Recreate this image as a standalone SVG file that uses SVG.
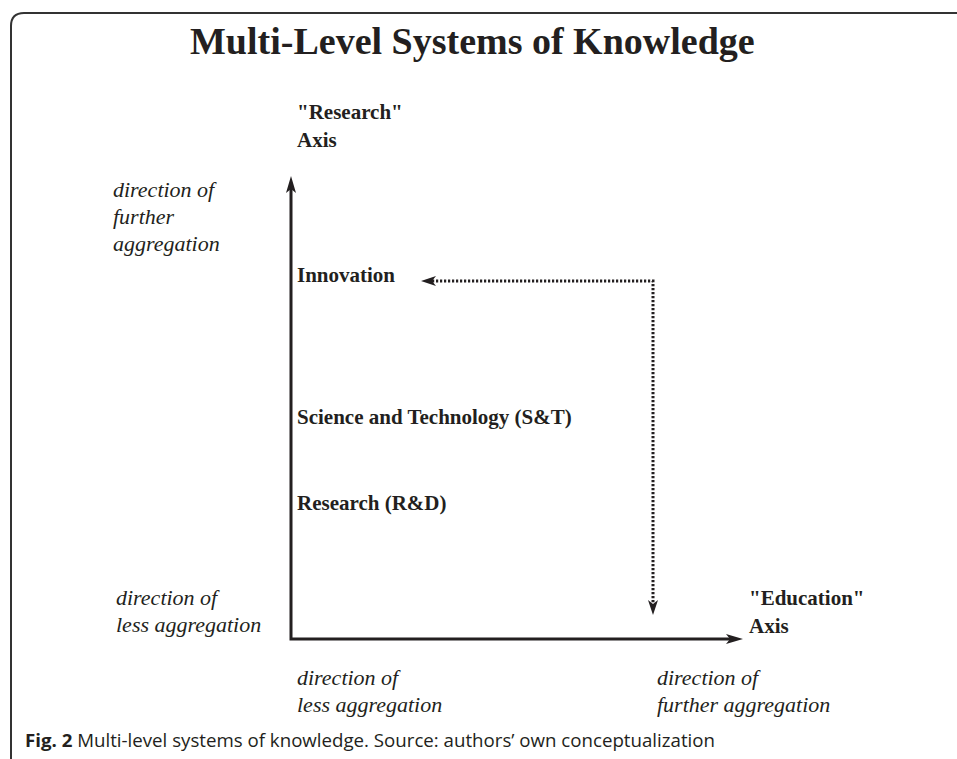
<svg xmlns="http://www.w3.org/2000/svg" width="957" height="759" viewBox="0 0 957 759">
  <style>
    .bold { font-family: "Liberation Serif", "Times New Roman", serif; font-weight: bold; font-size: 21px; fill: #231f20; }
    .ital { font-family: "Liberation Serif", "Times New Roman", serif; font-style: italic; font-size: 22px; fill: #231f20; }
    .title { font-family: "Liberation Serif", "Times New Roman", serif; font-weight: bold; font-size: 38px; fill: #231f20; }
    .cap { font-family: "Open Sans", "Noto Sans", sans-serif; font-size: 18px; fill: #231f20; }
    .axis { fill: none; stroke: #231f20; stroke-width: 3; }
    .dots { fill: none; stroke: #231f20; stroke-width: 3; stroke-dasharray: 2.2 1.8; }
  </style>
  <defs>
    <marker id="axisHead" viewBox="0 0 17 10" refX="4" refY="5" markerWidth="17" markerHeight="10" markerUnits="userSpaceOnUse" orient="auto-start-reverse">
      <path d="M0,0 L17,5 L0,10 L4,5 Z" fill="#231f20"/>
    </marker>
    <marker id="dotHead" viewBox="0 0 15 10" refX="4" refY="5" markerWidth="15" markerHeight="10" markerUnits="userSpaceOnUse" orient="auto-start-reverse">
      <path d="M0,0 L15,5 L0,10 L4,5 Z" fill="#231f20"/>
    </marker>
  </defs>
  <rect width="957" height="759" fill="#ffffff"/>
  <path id="frame" d="M11,759 V26 Q11,13 24,13 H957" fill="none" stroke="#333333" stroke-width="2"/>

  <g id="connectors">
    <path id="axes" class="axis" d="M291,189 V639 H730" marker-start="url(#axisHead)" marker-end="url(#axisHead)"/>
    <path id="innovation-link" class="dots" d="M432,281 H653 V604" marker-start="url(#dotHead)" marker-end="url(#dotHead)"/>
  </g>

  <g id="title"><text class="title" x="190" y="54">Multi-Level Systems of Knowledge</text></g>

  <g id="research-axis">
    <text class="bold" x="297" y="119">"Research"</text>
    <text class="bold" x="297" y="147">Axis</text>
  </g>
  <g id="education-axis">
    <text class="bold" x="749" y="605">"Education"</text>
    <text class="bold" x="749" y="633">Axis</text>
  </g>
  <g id="innovation"><text class="bold" x="297" y="282">Innovation</text></g>
  <g id="science-technology"><text class="bold" x="297" y="424">Science and Technology (S&amp;T)</text></g>
  <g id="research-rd"><text class="bold" x="297" y="510">Research (R&amp;D)</text></g>

  <g id="label-further-vertical">
    <text class="ital" x="113" y="197">direction of</text>
    <text class="ital" x="113" y="224">further</text>
    <text class="ital" x="113" y="251">aggregation</text>
  </g>
  <g id="label-less-vertical">
    <text class="ital" x="116" y="605">direction of</text>
    <text class="ital" x="116" y="632">less aggregation</text>
  </g>
  <g id="label-less-horizontal">
    <text class="ital" x="297" y="685">direction of</text>
    <text class="ital" x="297" y="712">less aggregation</text>
  </g>
  <g id="label-further-horizontal">
    <text class="ital" x="657" y="685">direction of</text>
    <text class="ital" x="657" y="712">further aggregation</text>
  </g>

  <g id="caption">
    <text class="cap" x="25" y="747" textLength="690" lengthAdjust="spacingAndGlyphs"><tspan font-weight="bold">Fig. 2</tspan> Multi-level systems of knowledge. Source: authors’ own conceptualization</text>
  </g>
</svg>
